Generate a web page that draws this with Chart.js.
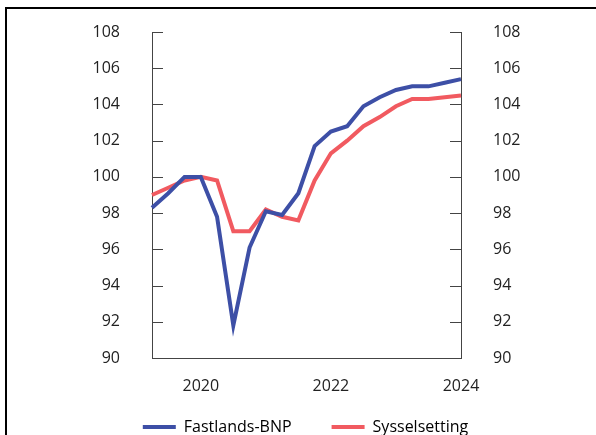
<!DOCTYPE html>
<html>
<head>
<meta charset="utf-8">
<script src="https://cdn.jsdelivr.net/npm/chart.js@4"></script>
<style>
  html, body { margin: 0; padding: 0; background: #fff; }
  #wrap { position: relative; width: 596px; height: 435px; overflow: hidden; }
  #frame { position: absolute; left: 5px; top: 7px; width: 620px; height: 460px; border-left: 2px solid #000; border-top: 2px solid #000; pointer-events: none; }
</style>
</head>
<body>
<div id="wrap">
  <canvas id="chart" width="596" height="435"></canvas>
  <div id="frame"></div>
</div>
<script>
  // kvartaler 2019K2 - 2024K1
  const quarters = ['2019K2', '2019K3', '2019K4',
    '2020K1', '2020K2', '2020K3', '2020K4',
    '2021K1', '2021K2', '2021K3', '2021K4',
    '2022K1', '2022K2', '2022K3', '2022K4',
    '2023K1', '2023K2', '2023K3', '2023K4',
    '2024K1'];
  const fastlandsBnp = [98.3, 99.1, 100.0, 100.0, 97.8, 91.8, 96.1, 98.1, 97.9, 99.1,
    101.7, 102.5, 102.8, 103.9, 104.4, 104.8, 105.0, 105.0, 105.2, 105.4];
  const sysselsetting = [99.0, 99.4, 99.8, 100.0, 99.8, 97.0, 97.0, 98.2, 97.8, 97.6,
    99.8, 101.3, 102.0, 102.8, 103.3, 103.9, 104.3, 104.3, 104.4, 104.5];
  const yMin = 90, yMax = 108, yStep = 2;

  const font = { family: "'Open Sans', sans-serif", size: 16 };
  const textColor = '#222';
  const axisColor = '#444';

  // tick marks pointing into the plot on both y axes
  const innerTicks = {
    id: 'innerTicks',
    beforeDatasetsDraw(chart) {
      const ctx = chart.ctx;
      const area = chart.chartArea;
      ctx.save();
      ctx.strokeStyle = axisColor;
      ctx.lineWidth = 1;
      ['y', 'y2'].forEach(id => {
        const scale = chart.scales[id];
        const x0 = id === 'y' ? area.left : area.right;
        const dir = id === 'y' ? 1 : -1;
        scale.ticks.forEach(t => {
          const py = Math.round(scale.getPixelForValue(t.value)) + 0.5;
          ctx.beginPath();
          ctx.moveTo(x0, py);
          ctx.lineTo(x0 + dir * 11, py);
          ctx.stroke();
        });
      });
      ctx.restore();
    }
  };

  // legend needs wide item spacing, pull it up a bit so it sits closer to the axis labels
  const legendNudge = {
    id: 'legendNudge',
    afterLayout(chart) {
      chart.legend.top -= 16;
      chart.legend.bottom -= 16;
    }
  };

  const yAxis = (pos, w) => ({
    position: pos,
    min: yMin,
    max: yMax,
    grid: { display: false, drawTicks: false },
    border: { display: true, color: axisColor, width: 1 },
    ticks: { stepSize: yStep, padding: 32, color: textColor, font: font },
    afterFit: s => {
      s.width = w;
      // tick padding is only meant sideways here
      s.paddingTop = 0;
      s.paddingBottom = 0;
    }
  });

  new Chart(document.getElementById('chart'), {
    type: 'line',
    data: {
      labels: quarters,
      datasets: [
        {
          label: 'Fastlands-BNP',
          data: fastlandsBnp,
          borderColor: '#3d4fa6',
          backgroundColor: '#3d4fa6',
          borderWidth: 4,
          pointRadius: 0,
          tension: 0,
          yAxisID: 'y'
        },
        {
          label: 'Sysselsetting',
          data: sysselsetting,
          borderColor: '#f15a60',
          backgroundColor: '#f15a60',
          borderWidth: 4,
          pointRadius: 0,
          tension: 0,
          yAxisID: 'y'
        }
      ]
    },
    options: {
      responsive: false,
      animation: false,
      layout: { padding: { left: 15, right: 0, top: 32, bottom: -26 } },
      scales: {
        x: {
          offset: false,
          grid: { display: false, drawTicks: false },
          border: { display: true, color: axisColor, width: 1 },
          ticks: {
            autoSkip: false,
            maxRotation: 0,
            padding: 19,
            color: textColor,
            font: font,
            callback: (v, i) => {
              const q = quarters[i];
              const yr = +q.slice(0, 4);
              return q.endsWith('K1') && yr % 2 === 0 ? String(yr) : '';
            }
          },
          afterFit: s => { s.height = 37; }
        },
        y: yAxis('left', 137),
        y2: yAxis('right', 135)
      },
      plugins: {
        tooltip: { enabled: false },
        legend: {
          position: 'bottom',
          labels: {
            boxWidth: 33,
            boxHeight: 4,
            padding: 40,
            color: textColor,
            font: font,
            generateLabels: chart => chart.data.datasets.map((ds, i) => ({
              text: ds.label,
              fillStyle: ds.borderColor,
              strokeStyle: ds.borderColor,
              lineWidth: 0,
              hidden: false,
              datasetIndex: i
            }))
          }
        }
      }
    },
    plugins: [innerTicks, legendNudge]
  });
</script>
</body>
</html>
